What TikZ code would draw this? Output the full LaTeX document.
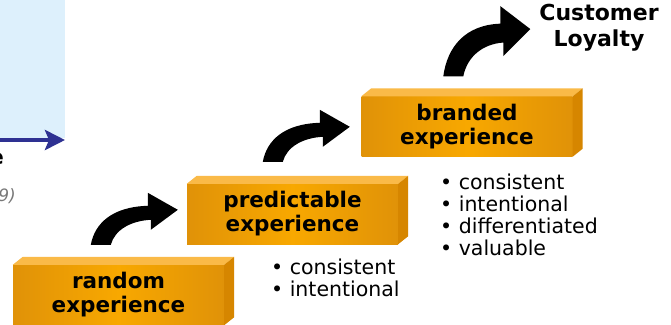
\documentclass[tikz,border=0pt]{standalone}
\usepackage{fontspec}
\setmainfont{DejaVu Sans}
\usetikzlibrary{arrows.meta,calc}
\definecolor{frontmid}{RGB}{248,168,0}
\definecolor{frontedge}{RGB}{224,146,8}
\definecolor{topface}{RGB}{250,186,72}
\definecolor{sideface}{RGB}{214,134,0}
\definecolor{panelblue}{RGB}{221,240,252}
\definecolor{arrowblue}{RGB}{46,49,146}
\definecolor{notegray}{RGB}{120,120,120}
\tikzset{
  stepface/.style={rectangle, minimum width=211pt, minimum height=60pt, inner sep=0pt,
    shading=axis, left color=frontedge, right color=frontedge, middle color=frontmid,
    align=center, font=\fontsize{21.5}{24}\selectfont\bfseries},
  bulletlist/.style={anchor=base west, inner sep=0pt, font=\fontsize{20.5}{22}\selectfont},
  curvarrow/.pic={
    \fill[black, yscale=-1] (0,0) .. controls (4,22) and (22,38) .. (57,39)
      -- (57,52) -- (87,35) -- (60,15) -- (60,25)
      .. controls (40,24) and (24,15) .. (20,0) -- cycle;
  }
}
\newcommand{\stepsides}[1]{%
  \fill[topface] (#1.north west) -- ++(10,-8) -- ($(#1.north east)+(10,-8)$) -- (#1.north east) -- cycle;
  \fill[sideface] (#1.north east) -- ++(10,-8) -- ($(#1.south east)+(10,-8)$) -- (#1.south east) -- cycle;
}
\begin{document}
\begin{tikzpicture}[x=1pt, y=-1pt]
\useasboundingbox (0,0) rectangle (671,324);
\clip (0,0) rectangle (671,324);
\fill[white] (0,0) rectangle (671,324);
% partial panel at left
\fill[panelblue] (0,0) rectangle (65,138);
\coordinate (bluestart) at (-5,140);
\coordinate (blueend) at (65,140);
\draw[arrowblue, line width=4pt, -{Stealth[length=20pt,width=20pt,inset=4pt]}] (bluestart) -- (blueend);
\node[anchor=base east, inner sep=0pt, font=\fontsize{21}{24}\selectfont\bfseries] (cute) at (4,164) {e};
\node[anchor=base east, inner sep=0pt, font=\fontsize{17}{20}\selectfont\itshape, text=notegray] (cutnote) at (16,201) {(2009)};
% steps
\node[stepface] (random) at (118.5,295) {random\\experience};
\stepsides{random}
\node[stepface] (predictable) at (292.5,214) {predictable\\experience};
\stepsides{predictable}
\node[stepface] (branded) at (467,126.5) {branded\\experience};
\stepsides{branded}
% arrows
\pic at ($(random.north west)+(78,-20)$) {curvarrow};
\pic at ($(predictable.north west)+(76,-22)$) {curvarrow};
\pic[yscale=1.35] at ($(branded.north west)+(82,-20)$) {curvarrow};
% goal
\node[align=center, inner sep=0pt, font=\fontsize{22}{26}\selectfont\bfseries] (loyalty) at (599,28) {Customer\\Loyalty};
% bullet lists
\node[bulletlist] (predlist) at (271,274) {\begin{tabular}[t]{@{}l@{}}• consistent\\• intentional\end{tabular}};
\node[bulletlist] (brandlist) at (440,189) {\begin{tabular}[t]{@{}l@{}}• consistent\\• intentional\\• differentiated\\• valuable\end{tabular}};
\end{tikzpicture}
\end{document}
